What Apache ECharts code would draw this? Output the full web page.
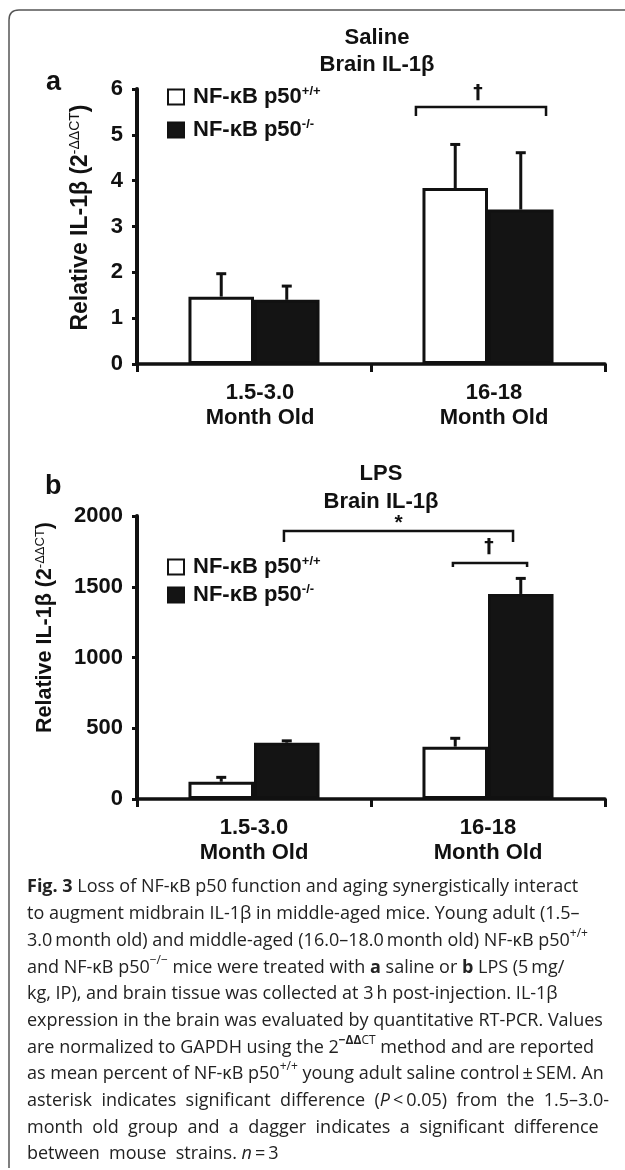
<!DOCTYPE html>
<html><head><meta charset="utf-8">
<script src="https://cdn.jsdelivr.net/npm/echarts@6/dist/echarts.min.js"></script>
<style>html,body{margin:0;padding:0;background:#fff}#c{width:625px;height:1170px}</style>
</head><body><div id="c"></div>
<script>
// ---------- data ----------
const categories = ['1.5-3.0\nMonth Old', '16-18\nMonth Old'];
const seriesNames = ['NF-κB p50+/+', 'NF-κB p50-/-'];
const legendSup = ['+/+', '-/-'];

const salineWT = [1.47, 3.84];
const salineKO = [1.40, 3.37];
const salineWTsem = [0.50, 0.95];
const salineKOsem = [0.30, 1.24];

const lpsWT = [122, 370];
const lpsKO = [398, 1449];
const lpsWTsem = [31, 59];
const lpsKOsem = [13, 110];

const salineTicks = [0, 1, 2, 3, 4, 5, 6];
const lpsTicks = [0, 500, 1000, 1500, 2000];

// significance brackets: [anchor category, start offset, end offset (category units), top value, leg value, symbol offset, symbol value]
const salineBrackets = [[1, -0.308, 0.248, 5.61, 5.41, -0.043, 5.91]];
const salineSymbols = ['†'];
const lpsBrackets = [[0, 0.128, 1.107, 1894, 1816, 0.618, 1951], [1, -0.150, 0.167, 1668, 1640, 0.004, 1781]];
const lpsSymbols = ['*', '†'];

// ---------- style ----------
const FONT = '"Liberation Sans", Arial, sans-serif';
const INK = '#111';
const BAR_FRAC = 0.28;

const chart = echarts.init(document.getElementById('c'), null, {renderer: 'canvas'});

function yAxisCfg(gi, ticks, nameFont, supFont, gap, shift) {
  const step = ticks[1] - ticks[0];
  return {
    gridIndex: gi, type: 'value', min: ticks[0], max: ticks[ticks.length - 1], interval: step,
    splitLine: {show: false},
    axisLine: {show: true, lineStyle: {color: INK, width: 4}},
    axisTick: {show: true, length: 5, lineStyle: {color: INK, width: 3}},
    axisLabel: {color: INK, fontSize: 22, fontWeight: 'bold', fontFamily: FONT, margin: 14,
                formatter: function (v) { return String(v); }},
    name: '{m|Relative IL-1β (2}{s|-ΔΔCT}{m|)}',
    nameLocation: 'middle', nameRotate: 90, nameGap: gap,
    nameTextStyle: {
      padding: [0, 0, 0, shift],
      rich: {
        m: {fontSize: nameFont, fontWeight: 'bold', fontFamily: FONT, color: INK, lineHeight: nameFont + 2},
        s: {fontSize: supFont, fontFamily: FONT, color: INK, lineHeight: supFont, verticalAlign: 'top'}
      }
    }
  };
}

function xAxisCfg(gi, labelPad) {
  return {
    gridIndex: gi, type: 'category', data: categories,
    axisLine: {show: true, lineStyle: {color: INK, width: 3.5}},
    axisTick: {show: true, length: 8, lineStyle: {color: INK, width: 3}},
    axisLabel: {color: INK, fontSize: 22, fontWeight: 'bold', fontFamily: FONT, lineHeight: 25, margin: 16, padding: [0, 0, 0, labelPad]}
  };
}

function barSeries(name, gi, values, fill) {
  return {
    type: 'bar', name: name, xAxisIndex: gi, yAxisIndex: gi, data: values,
    barWidth: (BAR_FRAC * 100) + '%', barGap: '0%',
    itemStyle: {color: fill, borderColor: INK, borderWidth: 3},
    z: 2
  };
}

function errSeries(gi, means, sems, side) {
  return {
    type: 'custom', xAxisIndex: gi, yAxisIndex: gi, z: 5,
    data: means.map((m, i) => [i, m, sems[i]]),
    encode: {x: 0, y: 1},
    renderItem: function (params, api) {
      const c = api.coord([api.value(0), api.value(1)]);
      const t = api.coord([api.value(0), api.value(1) + api.value(2)]);
      const band = api.size([1, 0])[0];
      const x = c[0] + side * band * BAR_FRAC / 2;
      return {type: 'group', children: [
        {type: 'line', shape: {x1: x, y1: c[1], x2: x, y2: t[1]}, style: {stroke: INK, lineWidth: 3}},
        {type: 'line', shape: {x1: x - 5, y1: t[1], x2: x + 5, y2: t[1]}, style: {stroke: INK, lineWidth: 3}}
      ]};
    }
  };
}

function bracketSeries(gi, brackets, symbols) {
  return {
    type: 'custom', xAxisIndex: gi, yAxisIndex: gi, z: 5,
    data: brackets, encode: {x: 0, y: 3},
    renderItem: function (params, api) {
      const base = api.coord([api.value(0), api.value(3)]);
      const leg = api.coord([api.value(0), api.value(4)]);
      const sym = api.coord([api.value(0), api.value(6)]);
      const band = api.size([1, 0])[0];
      const x0 = base[0] + api.value(1) * band;
      const x1 = base[0] + api.value(2) * band;
      const xs = base[0] + api.value(5) * band;
      const s = symbols[params.dataIndex];
      return {type: 'group', children: [
        {type: 'polyline', shape: {points: [[x0, leg[1]], [x0, base[1]], [x1, base[1]], [x1, leg[1]]]},
         style: {stroke: INK, lineWidth: 2.5, fill: null}},
        {type: 'text', style: {text: s, x: xs, y: sym[1], align: 'center', verticalAlign: 'middle',
          fontSize: s === '†' ? 19 : 21, fontWeight: 'bold',
          fontFamily: s === '†' ? '"DejaVu Sans", sans-serif' : FONT, fill: INK}}
      ]};
    }
  };
}

function legendCfg(top, gap) {
  return {
    data: seriesNames, orient: 'vertical', left: 162, top: top, itemWidth: 16, itemHeight: 15, itemGap: gap,
    selectedMode: false, icon: 'rect',
    itemStyle: {borderColor: INK, borderWidth: 2},
    formatter: function (n) { return '{m|NF-κB p50}{s|' + legendSup[seriesNames.indexOf(n)] + '}'; },
    textStyle: {
      padding: [0, 0, 0, 4],
      rich: {
        m: {fontSize: 22, fontWeight: 'bold', fontFamily: FONT, color: INK, lineHeight: 24},
        s: {fontSize: 13, fontWeight: 'bold', fontFamily: FONT, color: INK, lineHeight: 15, verticalAlign: 'top'}
      }
    }
  };
}

const CAP_FS = 18;
const capBase = {fontSize: CAP_FS, fontFamily: '"Open Sans", sans-serif', fill: '#222', lineHeight: 26.7};
const capRich = {
  r: Object.assign({}, capBase),
  b: Object.assign({}, capBase, {fontWeight: 'bold'}),
  i: Object.assign({}, capBase, {fontStyle: 'italic'}),
  s: Object.assign({}, capBase, {fontSize: 12, lineHeight: 14, verticalAlign: 'top'}),
  sb: Object.assign({}, capBase, {fontSize: 12, lineHeight: 14, verticalAlign: 'top', fontWeight: 'bold'})
};
const captionText = [
  '{b|Fig. 3}{r| Loss of NF-κB p50 function and aging synergistically interact}',
  '{r|to augment midbrain IL-1β in middle-aged mice. Young adult (1.5–}',
  '{r|3.0\u2009month old) and middle-aged (16.0–18.0\u2009month old) NF-κB p50}{s|+/+}',
  '{r|and NF-κB p50}{s|−/−}{r| mice were treated with }{b|a}{r| saline or }{b|b}{r| LPS (5\u2009mg/}',
  '{r|kg, IP), and brain tissue was collected at 3\u2009h post-injection. IL-1β}',
  '{r|expression in the brain was evaluated by quantitative RT-PCR. Values}',
  '{r|are normalized to GAPDH using the 2}{sb|−ΔΔ}{s|CT}{r| method and are reported}',
  '{r|as mean percent of NF-κB p50}{s|+/+}{r| young adult saline control\u2009±\u2009SEM. An}',
  '{r|asterisk  indicates  significant  difference  (}{i|P}{r|\u2009<\u20090.05)  from  the  1.5–3.0-}',
  '{r|month  old  group  and  a  dagger  indicates  a  significant  difference}',
  '{r|between  mouse  strains. }{i|n}{r|\u2009=\u20093}'
].join('\n');

const frameStyle = {stroke: '#555', lineWidth: 1.5, fill: null};
const option = {
  animation: false,
  backgroundColor: '#fff',
  title: [
    {text: 'Saline\nBrain IL-1β', left: 372, top: 19, textAlign: 'center',
     textStyle: {fontSize: 22, fontWeight: 'bold', fontFamily: FONT, color: INK, lineHeight: 27}},
    {text: 'a', left: 41, top: 64, textStyle: {fontSize: 27, fontWeight: 'bold', fontFamily: FONT, color: INK, lineHeight: 27}},
    {text: 'LPS\nBrain IL-1β', left: 376, top: 455, textAlign: 'center',
     textStyle: {fontSize: 22, fontWeight: 'bold', fontFamily: FONT, color: INK, lineHeight: 28}},
    {text: 'b', left: 40, top: 468, textStyle: {fontSize: 27, fontWeight: 'bold', fontFamily: FONT, color: INK, lineHeight: 27}}
  ],
  legend: [legendCfg(80, 10), legendCfg(550, 5)],
  grid: [
    {left: 137, right: 20, top: 89, height: 275, containLabel: false},
    {left: 137, right: 20, top: 516, height: 283, containLabel: false}
  ],
  xAxis: [xAxisCfg(0, 12), xAxisCfg(1, 0)],
  yAxis: [yAxisCfg(0, salineTicks, 23, 14, 44, 18), yAxisCfg(1, lpsTicks, 21.5, 13, 80, 60)],
  series: [
    barSeries(seriesNames[0], 0, salineWT, '#fff'),
    barSeries(seriesNames[1], 0, salineKO, '#141414'),
    errSeries(0, salineWT, salineWTsem, -1),
    errSeries(0, salineKO, salineKOsem, 1),
    bracketSeries(0, salineBrackets, salineSymbols),
    barSeries(seriesNames[0], 1, lpsWT, '#fff'),
    barSeries(seriesNames[1], 1, lpsKO, '#141414'),
    errSeries(1, lpsWT, lpsWTsem, -1),
    errSeries(1, lpsKO, lpsKOsem, 1),
    bracketSeries(1, lpsBrackets, lpsSymbols)
  ],
  graphic: [
    {type: 'line', silent: true, shape: {x1: 9, y1: 1168, x2: 9, y2: 20}, style: frameStyle},
    {type: 'bezierCurve', silent: true, shape: {x1: 9, y1: 20, cpx1: 9, cpy1: 10, x2: 19, y2: 10}, style: frameStyle},
    {type: 'line', silent: true, shape: {x1: 19, y1: 10, x2: 625, y2: 10}, style: frameStyle},
    {type: 'text', left: 27, top: 874, silent: true,
     style: {text: captionText, rich: capRich, fontSize: CAP_FS, fontFamily: '"Open Sans", sans-serif', fill: '#222', lineHeight: 26.7}}
  ]
};
chart.setOption(option);
</script></body></html>
